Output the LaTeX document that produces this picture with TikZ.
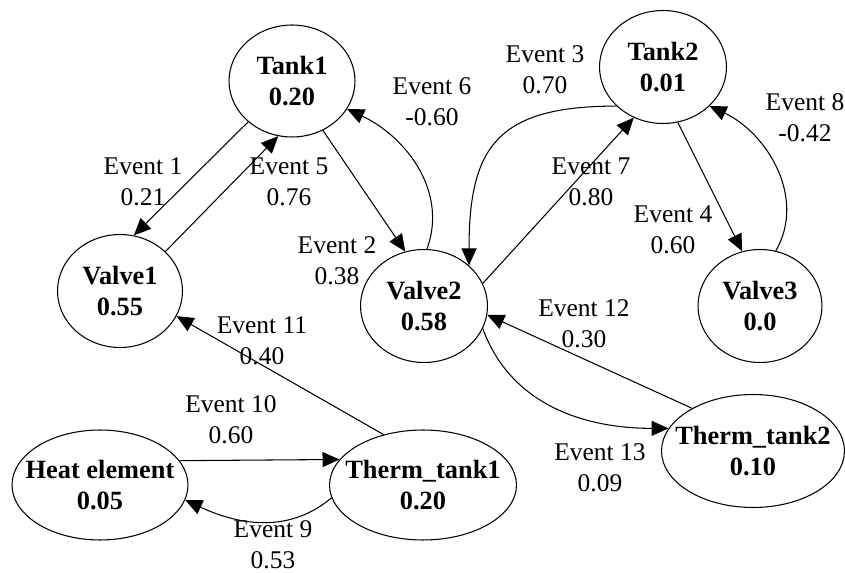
\documentclass[tikz,border=0pt]{standalone}
\usepackage{fontspec}
\setmainfont{Liberation Serif}
\usetikzlibrary{arrows.meta,shapes.geometric}

\begin{document}
\begin{tikzpicture}[x=0.02cm, y=-0.02cm,
  state/.style={draw, ellipse, inner sep=0pt, align=center, line width=0.6pt, font=\fontsize{15}{17.6}\selectfont\bfseries},
  wide/.style={inner xsep=-0.28cm},
  evt/.style={align=center, inner sep=0pt, font=\fontsize{14.5}{17.6}\selectfont},
  arrow/.style={line width=0.6pt, -{Triangle[length=0.34cm,width=0.3cm]}}
]
\useasboundingbox (0,0) rectangle (845,573);

% states
\node[state, minimum width=2.52cm, minimum height=2.24cm] (tank1) at (292,81) {Tank1\\0.20};
\node[state, minimum width=2.5cm, minimum height=2.26cm] (valve1) at (120,291) {Valve1\\0.55};
\node[state, minimum width=2.54cm, minimum height=2.26cm] (valve2) at (424,306) {Valve2\\0.58};
\node[state, minimum width=2.54cm, minimum height=2.26cm] (tank2) at (663,67) {Tank2\\0.01};
\node[state, minimum width=2.48cm, minimum height=2.26cm] (valve3) at (760,306) {Valve3\\0.0};
\node[state, wide, minimum width=3.52cm, minimum height=2.2cm] (heat) at (100,485) {Heat element\\0.05};
\node[state, wide, minimum width=3.74cm, minimum height=2.2cm] (therm1) at (423,485) {Therm\_tank1\\0.20};
\node[state, wide, minimum width=3.66cm, minimum height=2.26cm] (therm2) at (753,451) {Therm\_tank2\\0.10};

% transitions
\draw[arrow] (tank1.223) -- (valve1.76);
\draw[arrow] (valve1.41) -- (tank1.256);
\draw[arrow] (tank1.-58) -- (valve2.109);
\draw[arrow] (valve2.87) to[out=70, in=-25] (tank1.-27);
\draw[arrow] (tank2.220) to[out=180, in=90, looseness=1.4] (valve2.42);
\draw[arrow] (valve2.21) -- (tank2.240);
\draw[arrow] (tank2.-75) -- (valve3.108);
\draw[arrow] (valve3.74) to[out=60, in=-25] (tank2.-40);
\draw[arrow] (therm1.128) -- (valve1.-24);
\draw[arrow] (heat.17) -- (therm1.163);
\draw[arrow] (therm1.188) to[out=220, in=-25] (heat.-10);
\draw[arrow] (therm2.145) -- (valve2.-8);
\draw[arrow] (valve2.-21) to[out=-70, in=180] (therm2.165);

% event labels
\node[evt] (ev1) at (143,182) {Event 1\\0.21};
\node[evt] (ev2) at (337,261) {Event 2\\0.38};
\node[evt] (ev3) at (545,70) {Event 3\\0.70};
\node[evt] (ev4) at (673,230) {Event 4\\0.60};
\node[evt] (ev5) at (289,182) {Event 5\\0.76};
\node[evt] (ev6) at (432,102) {Event 6\\-0.60};
\node[evt] (ev7) at (591,182) {Event 7\\0.80};
\node[evt] (ev8) at (805,118) {Event 8\\-0.42};
\node[evt] (ev9) at (273,545) {Event 9\\0.53};
\node[evt] (ev10) at (231,420) {Event 10\\0.60};
\node[evt] (ev11) at (262,341) {Event 11\\0.40};
\node[evt] (ev12) at (584,324) {Event 12\\0.30};
\node[evt] (ev13) at (600,468) {Event 13\\0.09};
\end{tikzpicture}
\end{document}
